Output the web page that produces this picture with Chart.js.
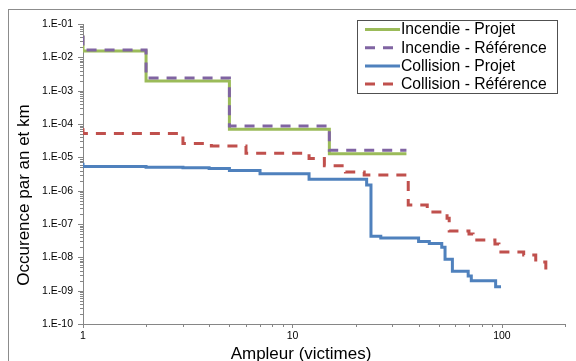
<!DOCTYPE html>
<html>
<head>
<meta charset="utf-8">
<script src="https://cdn.jsdelivr.net/npm/chart.js@4.4.1/dist/chart.umd.min.js"></script>
<style>
  html, body { margin: 0; padding: 0; background: #fff; }
  canvas { display: block; }
</style>
</head>
<body>
<canvas id="risk-chart" width="576" height="361"></canvas>
<script>
// Incendie - step curves (x = victims, y = occurrence per year and km)
const fireProjectX = [1, 1, 2, 5, 15, 35];
const fireProjectY = [4.5e-2, 1.55e-2, 1.95e-3, 6.9e-5, 1.29e-5, 1.29e-5];
const fireRefX = [1, 1, 2, 5, 15, 35];
const fireRefY = [4.5e-2, 1.66e-2, 2.4e-3, 8.7e-5, 1.62e-5, 1.62e-5];

// Collision - step curves
const collProjectX = [1, 1, 2, 3, 4, 5, 7, 12, 22.6, 23.7, 26.4, 40, 45, 51.6, 53.5, 58, 69, 71.4, 93.3, 99];
const collProjectY = [6.9e-6, 5.3e-6, 5.0e-6, 4.85e-6, 4.6e-6, 4.0e-6, 3.2e-6, 2.2e-6, 1.48e-6, 4.3e-8, 3.8e-8,
  3.0e-8, 2.6e-8, 2.0e-8, 8.7e-9, 3.8e-9, 2.75e-9, 2.0e-9, 1.3e-9, 1.3e-9];
const collRefX = [1, 1, 3, 4.1, 6, 12, 14.2, 17.9, 22, 35.7, 44, 54.7, 56, 69.6, 72.8, 92.6, 96.8, 127, 145, 162];
const collRefY = [7.4e-5, 5.2e-5, 2.6e-5, 2.2e-5, 1.33e-5, 9.2e-6, 5.6e-6, 3.6e-6, 2.95e-6, 3.7e-7, 2.3e-7,
  1.5e-7, 6.2e-8, 5.0e-8, 3.3e-8, 2.5e-8, 1.45e-8, 1.17e-8, 7.2e-9, 3.0e-9];

const seriesLabels = ['Incendie - Projet', 'Incendie - Référence', 'Collision - Projet', 'Collision - Référence'];

// axis ticks
const xTickValues = [1, 10, 100];
const xTickLabels = ['1', '10', '100'];
const yTickValues = [1e-10, 1e-9, 1e-8, 1e-7, 1e-6, 1e-5, 1e-4, 1e-3, 1e-2, 1e-1];
const yTickLabels = ['1.E-10', '1.E-09', '1.E-08', '1.E-07', '1.E-06', '1.E-05', '1.E-04', '1.E-03', '1.E-02', '1.E-01'];

const AXIS_COLOR = '#868686';
const FONT = "'Liberation Sans', Arial, sans-serif";

function toPoints(xs, ys) {
    return xs.map((x, i) => ({ x: x, y: ys[i] }));
}

// major ticks plus the 2..9 minor ticks of every decade
function logTicks(min, max) {
    const ticks = [];
    for (let e = Math.round(Math.log10(min)); e <= Math.round(Math.log10(max)); e++) {
        for (let k = 1; k <= 9; k++) {
            const v = k * Math.pow(10, e);
            if (v > max * 1.0001) break;
            ticks.push({ value: v, major: k === 1 });
        }
    }
    return ticks;
}

function labelFor(value, values, labels) {
    for (let i = 0; i < values.length; i++) {
        if (Math.abs(Math.log10(value) - Math.log10(values[i])) < 1e-6) return labels[i];
    }
    return '';
}

// frame, tick marks, axis titles and the boxed legend
const decorations = {
    id: 'decorations',
    beforeDraw(chart) {
        const ctx = chart.ctx;
        ctx.save();
        ctx.fillStyle = '#fff';
        ctx.fillRect(0, 0, chart.width, chart.height);
        ctx.strokeStyle = '#8c8c8c';
        ctx.lineWidth = 1;
        ctx.strokeRect(8.5, 9.5, 700, 500);
        ctx.restore();
    },
    afterDraw(chart) {
        const ctx = chart.ctx;
        const xs = chart.scales.x;
        const ys = chart.scales.y;
        ctx.save();
        ctx.strokeStyle = AXIS_COLOR;
        ctx.lineWidth = 1;
        ctx.beginPath();
        xs.ticks.forEach(t => {
            const px = Math.round(xs.getPixelForValue(t.value)) + 0.5;
            ctx.moveTo(px, xs.top);
            ctx.lineTo(px, xs.top + (t.major ? 4 : 3));
        });
        ys.ticks.forEach(t => {
            const py = Math.round(ys.getPixelForValue(t.value)) + 0.5;
            ctx.moveTo(ys.right, py);
            ctx.lineTo(ys.right - (t.major ? 5 : 3), py);
        });
        ctx.stroke();

        // axis titles
        ctx.fillStyle = '#000';
        ctx.font = '17px ' + FONT;
        ctx.textAlign = 'center';
        ctx.textBaseline = 'middle';
        ctx.fillText('Ampleur (victimes)', 301, 354);
        ctx.save();
        ctx.translate(24, 195);
        ctx.rotate(-Math.PI / 2);
        ctx.fillText('Occurence par an et km', 0, 0);
        ctx.restore();

        // legend
        const box = { left: 357, top: 20, width: 200, height: 73 };
        ctx.fillStyle = '#fff';
        ctx.fillRect(box.left, box.top, box.width, box.height);
        ctx.strokeStyle = '#505050';
        ctx.strokeRect(box.left + 0.5, box.top + 0.5, box.width, box.height);
        ctx.font = '15.7px ' + FONT;
        ctx.textAlign = 'left';
        chart.data.datasets.forEach((ds, i) => {
            const cy = 29.5 + i * 18.2;
            ctx.strokeStyle = ds.borderColor;
            ctx.lineWidth = ds.borderWidth;
            ctx.setLineDash(ds.borderDash || []);
            ctx.beginPath();
            ctx.moveTo(365, cy);
            ctx.lineTo(400, cy);
            ctx.stroke();
            ctx.setLineDash([]);
            ctx.fillStyle = '#000';
            ctx.fillText(ds.label, 401, cy + 0.5);
        });
        ctx.restore();
    }
};

const datasets = [
    { label: seriesLabels[0], data: toPoints(fireProjectX, fireProjectY), borderColor: '#9BBB59', order: 4 },
    { label: seriesLabels[1], data: toPoints(fireRefX, fireRefY), borderColor: '#8064A2', borderDash: [10, 8], order: 3 },
    { label: seriesLabels[2], data: toPoints(collProjectX, collProjectY), borderColor: '#4F81BD', order: 2 },
    { label: seriesLabels[3], data: toPoints(collRefX, collRefY), borderColor: '#C0504D', borderDash: [10, 8], order: 1 }
].map(ds => Object.assign({
    borderWidth: 3,
    stepped: 'before',
    pointRadius: 0,
    fill: false
}, ds));

const ctx = document.getElementById('risk-chart').getContext('2d');
const chart = new Chart(ctx, {
    type: 'line',
    data: { datasets: datasets },
    options: {
        responsive: false,
        animation: false,
        devicePixelRatio: 1,
        layout: { padding: { top: 24, right: 11, left: 0, bottom: 0 } },
        plugins: { legend: { display: false }, tooltip: { enabled: false } },
        scales: {
            x: {
                type: 'logarithmic',
                min: 1,
                max: 200,
                afterFit: s => { s.height = 37; },
                afterBuildTicks: s => { s.ticks = logTicks(1, 200); },
                grid: { display: false, drawTicks: false },
                border: { display: true, color: AXIS_COLOR, width: 1 },
                ticks: {
                    autoSkip: false,
                    maxRotation: 0,
                    padding: 6,
                    color: '#000',
                    font: { family: FONT, size: 10.5 },
                    callback: v => labelFor(v, xTickValues, xTickLabels)
                }
            },
            y: {
                type: 'logarithmic',
                min: 1e-10,
                max: 1e-1,
                afterFit: s => { s.width = 83; },
                afterBuildTicks: s => { s.ticks = logTicks(1e-10, 1e-1); },
                grid: { display: false, drawTicks: false },
                border: { display: true, color: AXIS_COLOR, width: 1 },
                ticks: {
                    autoSkip: false,
                    padding: 10,
                    color: '#000',
                    font: { family: FONT, size: 10.5 },
                    callback: v => labelFor(v, yTickValues, yTickLabels)
                }
            }
        }
    },
    plugins: [decorations]
});
</script>
</body>
</html>
